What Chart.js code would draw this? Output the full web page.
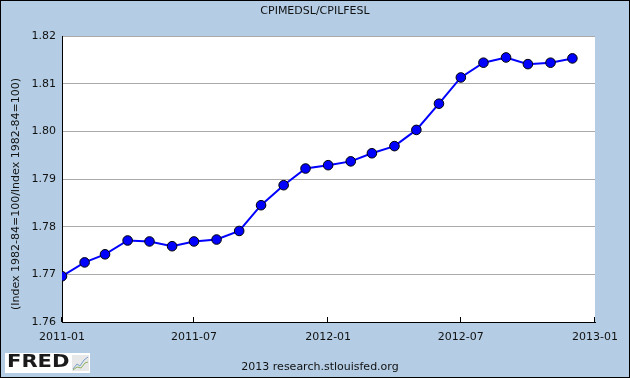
<!DOCTYPE html>
<html lang="en">
<head>
    <meta charset="UTF-8">
    <title>CPIMEDSL/CPILFESL</title>
    <script src="https://cdn.jsdelivr.net/npm/chart.js@4.4.1/dist/chart.umd.min.js"></script>
    <style>
        body { margin: 0; background: #b4cde4; }
        canvas { display: block; }
    </style>
</head>
<body>
    <canvas id="fredChart" width="630" height="378"></canvas>

    <script>
        // monthly observations, 2011-01 .. 2012-12
        const months = [
            '2011-01', '2011-02', '2011-03', '2011-04', '2011-05', '2011-06',
            '2011-07', '2011-08', '2011-09', '2011-10', '2011-11', '2011-12',
            '2012-01', '2012-02', '2012-03', '2012-04', '2012-05', '2012-06',
            '2012-07', '2012-08', '2012-09', '2012-10', '2012-11', '2012-12'
        ];
        const ratio = [
            1.7696, 1.7725, 1.7742, 1.7771, 1.7769, 1.7759,
            1.7769, 1.7773, 1.7791, 1.7845, 1.7887, 1.7922,
            1.7929, 1.7937, 1.7954, 1.7969, 1.8003, 1.8058,
            1.8113, 1.8144, 1.8155, 1.8141, 1.8144, 1.8153
        ];
        const xTickLabels = ['2011-01', '2011-07', '2012-01', '2012-07', '2013-01'];
        const yTicks = [1.76, 1.77, 1.78, 1.79, 1.80, 1.81, 1.82];

        const titleText = 'CPIMEDSL/CPILFESL';
        const yAxisText = '(Index 1982-84=100/Index 1982-84=100)';
        const footerText = '2013 research.stlouisfed.org';

        // days since 2011-01-01 for a 'YYYY-MM' label
        const start = Date.UTC(2011, 0, 1);
        function dayOf(label) {
            const p = label.split('-');
            return (Date.UTC(+p[0], +p[1] - 1, 1) - start) / 86400000;
        }
        const tickDays = xTickLabels.map(dayOf);

        const fontFamily = '"DejaVu Sans", Verdana, sans-serif';

        // background, white plot area, frame, texts, inner x ticks, logo
        const fredDecor = {
            id: 'fredDecor',
            beforeDraw(chart) {
                const ctx = chart.ctx;
                const a = chart.chartArea;
                ctx.save();
                ctx.fillStyle = '#b4cde4';
                ctx.fillRect(0, 0, chart.width, chart.height);
                ctx.fillStyle = '#ffffff';
                ctx.fillRect(a.left, a.top, a.right - a.left, a.bottom - a.top);
                ctx.restore();
            },
            afterDraw(chart) {
                const ctx = chart.ctx;
                const a = chart.chartArea;
                const xs = chart.scales.x;
                ctx.save();

                // small tick marks pointing into the plot
                ctx.strokeStyle = '#000';
                ctx.lineWidth = 1;
                tickDays.forEach(d => {
                    const px = Math.round(xs.getPixelForValue(d)) - 0.5;
                    ctx.beginPath();
                    ctx.moveTo(px, a.bottom);
                    ctx.lineTo(px, a.bottom - 5);
                    ctx.stroke();
                });

                // title
                ctx.fillStyle = '#111';
                ctx.font = '11px ' + fontFamily;
                ctx.textAlign = 'center';
                ctx.textBaseline = 'middle';
                ctx.fillText(titleText, 315, 11);

                // y axis title
                ctx.save();
                ctx.translate(16, 194);
                ctx.rotate(-Math.PI / 2);
                ctx.fillText(yAxisText, 0, 0);
                ctx.restore();

                // footer
                ctx.fillText(footerText, 320, 367);

                // FRED logo
                ctx.fillStyle = '#ffffff';
                ctx.fillRect(5, 353, 85, 20);
                ctx.save();
                ctx.fillStyle = '#1a1a1a';
                ctx.font = 'bold 18px ' + fontFamily;
                ctx.textAlign = 'left';
                ctx.translate(7, 362);
                ctx.scale(1.17, 1);
                ctx.fillText('FRED', 0, 0);
                ctx.restore();
                ctx.fillStyle = '#e8e8e8';
                ctx.fillRect(72, 355, 17, 16);
                ctx.lineWidth = 1;
                ctx.strokeStyle = '#7aa0c8';
                ctx.beginPath();
                ctx.moveTo(73, 369); ctx.lineTo(77, 364); ctx.lineTo(80, 366); ctx.lineTo(84, 360); ctx.lineTo(88, 357);
                ctx.stroke();
                ctx.strokeStyle = '#8cb060';
                ctx.beginPath();
                ctx.moveTo(73, 370); ctx.lineTo(77, 367); ctx.lineTo(81, 368); ctx.lineTo(85, 363); ctx.lineTo(88, 362);
                ctx.stroke();

                // outer frame
                ctx.strokeStyle = '#000';
                ctx.lineWidth = 1;
                ctx.strokeRect(0.5, 0.5, chart.width - 1, chart.height - 1);
                ctx.restore();
            }
        };

        new Chart(document.getElementById('fredChart'), {
            type: 'line',
            data: {
                datasets: [{
                    data: months.map((m, i) => ({ x: dayOf(m), y: ratio[i] })),
                    borderColor: '#0000ff',
                    borderWidth: 2,
                    tension: 0,
                    pointRadius: 4.8,
                    pointBackgroundColor: '#0000ff',
                    pointBorderColor: '#000000',
                    pointBorderWidth: 1
                }]
            },
            options: {
                responsive: false,
                animation: false,
                layout: { padding: { top: 36, right: 35, left: 0, bottom: 0 } },
                plugins: {
                    legend: { display: false },
                    tooltip: { enabled: false }
                },
                scales: {
                    x: {
                        type: 'linear',
                        min: 0,
                        max: tickDays[tickDays.length - 1],
                        afterBuildTicks: s => { s.ticks = tickDays.map(v => ({ value: v })); },
                        afterFit: s => { s.height = 56; },
                        grid: { display: true, drawOnChartArea: false, drawTicks: false },
                        border: { color: '#000', width: 1 },
                        ticks: {
                            padding: 9,
                            color: '#111',
                            font: { family: fontFamily, size: 11 },
                            maxRotation: 0,
                            callback: v => xTickLabels[tickDays.indexOf(v)]
                        }
                    },
                    y: {
                        min: yTicks[0],
                        max: yTicks[yTicks.length - 1],
                        afterBuildTicks: s => { s.ticks = yTicks.map(v => ({ value: v })); },
                        afterFit: s => { s.width = 62; },
                        grid: { color: '#aaaaaa', drawTicks: false },
                        border: { color: '#000', width: 1 },
                        ticks: {
                            padding: 6,
                            color: '#111',
                            font: { family: fontFamily, size: 11 },
                            callback: v => v.toFixed(2)
                        }
                    }
                }
            },
            plugins: [fredDecor]
        });
    </script>
</body>
</html>
